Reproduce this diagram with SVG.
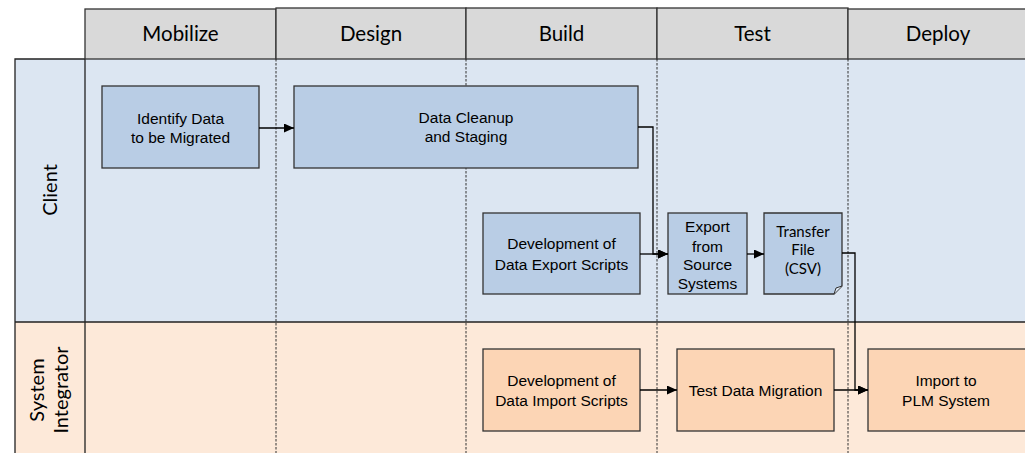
<svg xmlns="http://www.w3.org/2000/svg" width="1025" height="453" viewBox="0 0 1025 453">
  <style>
    .hdr { fill: #d9d9d9; stroke: #333; stroke-width: 1.3; }
    .hdrtxt { font-family: Lato, "Open Sans", sans-serif; font-size: 20.5px; fill: #000; text-anchor: middle; }
    .lanetxt { font-family: Lato, "Open Sans", sans-serif; font-size: 20px; fill: #000; text-anchor: middle; }
    .sep { stroke: #222; stroke-width: 1.3; fill: none; }
    .dash { stroke: #333; stroke-width: 1; stroke-dasharray: 2.5 1.5; fill: none; }
    .blue { fill: #b9cde5; stroke: #333; stroke-width: 1.3; }
    .orange { fill: #fcd5b5; stroke: #333; stroke-width: 1.3; }
    .txt { font-family: "Liberation Sans", Arial, sans-serif; font-size: 15.5px; fill: #000; text-anchor: middle; }
    .ctxt { font-family: Lato, "Open Sans", sans-serif; font-size: 15px; fill: #000; text-anchor: middle; }
    .conn { stroke: #000; stroke-width: 1.3; fill: none; }
  </style>
  <defs>
    <marker id="arrow" markerUnits="userSpaceOnUse" markerWidth="10" markerHeight="9" refX="10" refY="4.5" orient="auto">
      <path d="M0,0 L10,4.5 L0,9 Z" fill="#000"/>
    </marker>
  </defs>

  <rect width="1025" height="453" fill="#ffffff"/>

  <!-- swimlanes -->
  <g id="lane-client">
    <rect x="15" y="59" width="1010" height="263" fill="#dce6f2"/>
    <text class="lanetxt" transform="translate(57,190) rotate(-90)">Client</text>
  </g>
  <g id="lane-integrator">
    <rect x="15" y="322" width="1010" height="131" fill="#fde9d9"/>
    <text class="lanetxt" transform="translate(44,390) rotate(-90)">System</text>
    <text class="lanetxt" transform="translate(68,390) rotate(-90)">Integrator</text>
  </g>

  <!-- phase columns -->
  <g id="phase-dividers">
    <line class="dash" x1="276" y1="59" x2="276" y2="453"/>
    <line class="dash" x1="466" y1="59" x2="466" y2="453"/>
    <line class="dash" x1="657" y1="59" x2="657" y2="453"/>
    <line class="dash" x1="848" y1="59" x2="848" y2="453"/>
  </g>

  <g id="lane-borders">
    <path class="sep" d="M15,453 V59 H85 M85,59 V453 M15,322 H1025"/>
  </g>

  <g id="header-mobilize">
    <rect class="hdr" x="85" y="9" width="191" height="50"/>
    <text class="hdrtxt" x="180.5" y="41">Mobilize</text>
  </g>
  <g id="header-design">
    <rect class="hdr" x="276" y="8" width="190" height="51"/>
    <text class="hdrtxt" x="371" y="41">Design</text>
  </g>
  <g id="header-build">
    <rect class="hdr" x="466" y="8" width="191" height="51"/>
    <text class="hdrtxt" x="561.5" y="41">Build</text>
  </g>
  <g id="header-test">
    <rect class="hdr" x="657" y="8" width="191" height="51"/>
    <text class="hdrtxt" x="752.5" y="41">Test</text>
  </g>
  <g id="header-deploy">
    <rect class="hdr" x="848" y="9" width="190" height="50"/>
    <text class="hdrtxt" x="938" y="41">Deploy</text>
  </g>

  <!-- client tasks -->
  <g id="identify-data">
    <rect class="blue" x="102" y="86" width="157" height="82"/>
    <text class="txt" x="180.5" y="124">Identify Data</text>
    <text class="txt" x="180.5" y="143">to be Migrated</text>
  </g>
  <g id="data-cleanup">
    <rect class="blue" x="294" y="86" width="344" height="82"/>
    <text class="txt" x="466" y="123">Data Cleanup</text>
    <text class="txt" x="466" y="142">and Staging</text>
  </g>
  <g id="dev-export">
    <rect class="blue" x="483" y="213" width="157" height="81"/>
    <text class="txt" x="561.5" y="249">Development of</text>
    <text class="txt" x="561.5" y="270">Data Export Scripts</text>
  </g>
  <g id="export-source">
    <rect class="blue" x="668" y="213" width="79" height="81"/>
    <text class="txt" x="707.5" y="232">Export</text>
    <text class="txt" x="707.5" y="252">from</text>
    <text class="txt" x="707.5" y="270">Source</text>
    <text class="txt" x="707.5" y="289">Systems</text>
  </g>
  <g id="transfer-file">
    <path class="blue" d="M764,213 H842 V286 L834,294 H764 Z"/>
    <path d="M834,294 L836,288 L842,286" fill="#dce6f2" stroke="#333" stroke-width="1"/>
    <text class="ctxt" x="803" y="237">Transfer</text>
    <text class="ctxt" x="803" y="255">File</text>
    <text class="ctxt" x="803" y="274">(CSV)</text>
  </g>

  <!-- integrator tasks -->
  <g id="dev-import">
    <rect class="orange" x="483" y="349" width="157" height="82"/>
    <text class="txt" x="561.5" y="386">Development of</text>
    <text class="txt" x="561.5" y="406">Data Import Scripts</text>
  </g>
  <g id="test-migration">
    <rect class="orange" x="677" y="349" width="157" height="82"/>
    <text class="txt" x="755.5" y="396">Test Data Migration</text>
  </g>
  <g id="import-plm">
    <rect class="orange" x="868" y="349" width="170" height="82"/>
    <text class="txt" x="946" y="386">Import to</text>
    <text class="txt" x="946" y="406">PLM System</text>
  </g>

  <!-- connectors -->
  <g id="connectors">
    <path class="conn" d="M259,128 H294" marker-end="url(#arrow)"/>
    <path class="conn" d="M638,127 H653 V254 H668" marker-end="url(#arrow)"/>
    <path class="conn" d="M640,254 H668" marker-end="url(#arrow)"/>
    <path class="conn" d="M747,254 H764" marker-end="url(#arrow)"/>
    <path class="conn" d="M842,253 H855 V390 H868" marker-end="url(#arrow)"/>
    <path class="conn" d="M640,390 H677" marker-end="url(#arrow)"/>
    <path class="conn" d="M834,390 H868" marker-end="url(#arrow)"/>
  </g>
</svg>
